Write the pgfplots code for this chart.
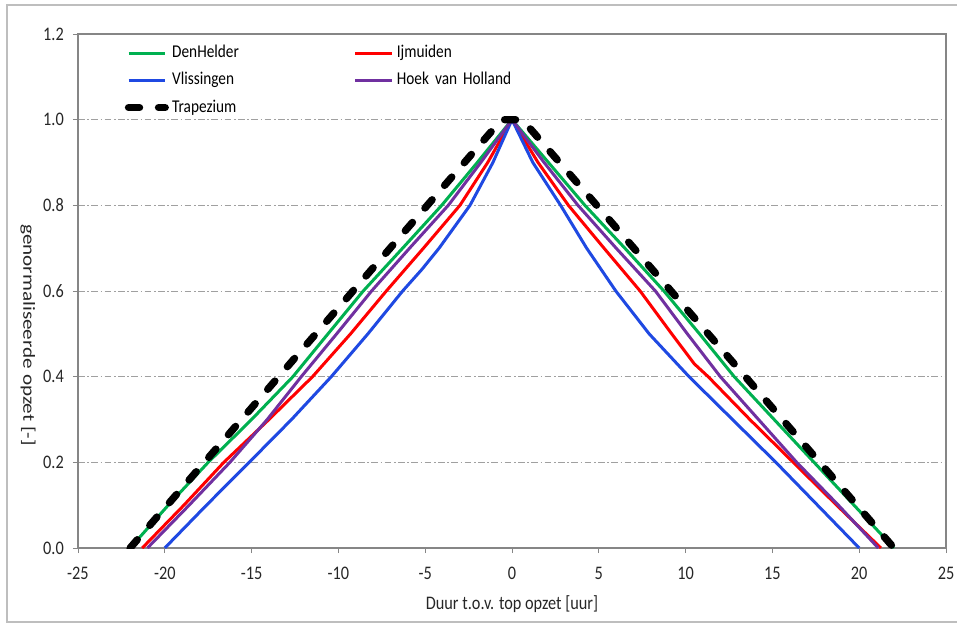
\documentclass[border=0pt]{standalone}
\usepackage{fontspec}
\usepackage{graphicx}
\setmainfont{Carlito}[FakeStretch=0.85]
\newfontfamily\labelfont{Carlito}
\usepackage{pgfplots}
\pgfplotsset{compat=1.18}
\definecolor{cGreen}{RGB}{0,176,80}
\definecolor{cRed}{RGB}{255,0,0}
\definecolor{cBlue}{RGB}{31,73,226}
\definecolor{cPurple}{RGB}{112,48,160}
\definecolor{axisgray}{RGB}{134,134,134}
\definecolor{gridgray}{RGB}{160,160,160}
\definecolor{framegray}{RGB}{190,190,190}
\begin{document}
\begin{tikzpicture}
\useasboundingbox (0,0) rectangle (574.2pt,-375pt);
\draw[framegray, line width=1.5pt] (574.2pt,-3pt) -- (4.2pt,-3pt) -- (4.2pt,-373.2pt) -- (574.2pt,-373.2pt);
\begin{axis}[
  at={(46.8pt,-328.8pt)}, anchor=south west, scale only axis,
  width=520.8pt, height=308.4pt,
  xmin=-25, xmax=25, ymin=0, ymax=1.2,
  xtick={-25,-20,-15,-10,-5,0,5,10,15,20,25},
  ytick={0,0.2,0.4,0.6,0.8,1.0,1.2},
  tick pos=left, tick align=outside,
  major tick length=3pt,
  every tick/.style={axisgray, line width=0.6pt},
  axis line style={axisgray, line width=0.8pt},
  ymajorgrids, grid style={gridgray, line width=0.5pt, dash pattern=on 4pt off 1.5pt on 1pt off 1.5pt},
  /pgf/number format/assume math mode=true,
  yticklabel style={/pgf/number format/.cd, fixed, fixed zerofill, precision=1, /tikz/.cd, xshift=-2pt},
  xticklabel style={yshift=-5pt},
  ticklabel style={font=\fontsize{11.5}{13}\selectfont, text=black!85},
  xlabel={Duur t.o.v. top opzet [uur]},
  xlabel style={at={(axis description cs:0.5,-0.109)}, anchor=center, font=\fontsize{11.5}{13}\selectfont, text=black!85},
  legend columns=2,
  legend image code/.code={\draw[#1] (0pt,0pt) -- (22pt,0pt);},
  legend style={at={(axis description cs:0.054,0.978)}, anchor=north west, draw=none, fill=none,
    inner sep=0pt, outer sep=0pt, row sep=6.8pt,
    font=\fontsize{10.8}{12}\selectfont,
    nodes={inner sep=0pt, text height=7.5pt, text depth=2pt, anchor=west, text width=109pt}},
  /tikz/every odd column/.append style={column sep=2pt},
  legend cell align=left,
]
\addplot[cGreen, line width=1.8pt] coordinates {
(-22.0,0) (-19.8,0.1) (-17.5,0.2) (-15.0,0.3) (-12.62,0.4) (-10.6,0.5) (-8.57,0.6) (-6.3,0.7) (-4.05,0.8) (-2.0,0.9) (0,1.0)
(2.1,0.9) (4.2,0.8) (6.5,0.7) (8.75,0.6) (10.8,0.5) (12.8,0.4) (15.1,0.3) (17.4,0.2) (19.7,0.1) (22.0,0)};
\addlegendentry{DenHelder}
\addplot[cRed, line width=1.8pt] coordinates {
(-21.3,0) (-18.9,0.1) (-16.6,0.2) (-14.0,0.3) (-11.49,0.4) (-9.3,0.5) (-7.24,0.6) (-5.1,0.7) (-3.0,0.8) (-1.4,0.9) (0,1.0)
(1.5,0.9) (3.25,0.8) (5.3,0.7) (7.38,0.6) (9.2,0.5) (10.5,0.43) (11.3,0.4) (13.7,0.3) (16.2,0.2) (18.7,0.1) (21.25,0)};
\addlegendentry{Ijmuiden}
\addplot[cBlue, line width=1.8pt] coordinates {
(-20.0,0) (-17.6,0.1) (-15.14,0.2) (-12.7,0.3) (-10.41,0.4) (-8.3,0.5) (-6.3,0.6) (-5.2,0.65) (-4.2,0.7) (-2.42,0.8) (-1.1,0.9) (0,1.0)
(1.2,0.9) (2.8,0.8) (4.3,0.7) (5.98,0.6) (7.9,0.5) (10.2,0.4) (12.7,0.3) (15.2,0.2) (17.6,0.1) (20.0,0)};
\addlegendentry{Vlissingen}
\addplot[cPurple, line width=1.8pt] coordinates {
(-21.0,0) (-18.6,0.1) (-16.25,0.2) (-14.1,0.3) (-12.14,0.4) (-10.1,0.5) (-8.09,0.6) (-5.9,0.7) (-3.67,0.8) (-1.8,0.9) (0,1.0)
(1.85,0.9) (3.8,0.8) (6.0,0.7) (8.26,0.6) (10.1,0.5) (12.0,0.4) (14.2,0.3) (16.4,0.2) (18.8,0.1) (21.1,0)};
\addlegendentry{Hoek van Holland}
\addplot[black, line width=4.4pt, line cap=round, dash pattern=on 6.6pt off 11.4pt] coordinates {
(-22.0,0) (-0.6,1.0) (0.6,1.0) (22.0,0)};
\addlegendentry{Trapezium}
\end{axis}
\node[rotate=-90, inner sep=0pt, text=black!85] at (16.8pt,-201pt) {\scalebox{1}[0.8]{\labelfont\fontsize{12.7}{14}\selectfont genormaliseerde opzet [-]}};
\end{tikzpicture}
\end{document}
